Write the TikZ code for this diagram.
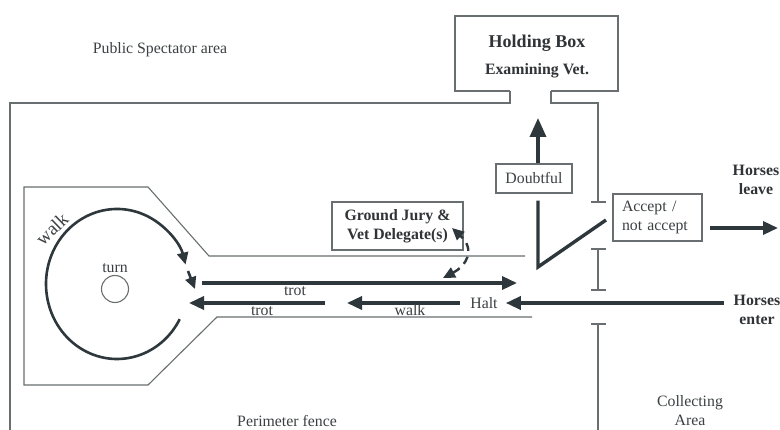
\documentclass[tikz,border=0pt]{standalone}
\usepackage{fontspec}
\setmainfont{Liberation Serif}
\usetikzlibrary{arrows.meta}
\definecolor{ink}{RGB}{45,55,60}
\definecolor{fence}{RGB}{105,110,112}
\definecolor{txt}{RGB}{60,64,66}
\definecolor{btxt}{RGB}{48,52,55}
\begin{document}
\begin{tikzpicture}[x=1pt,y=-1pt,
  fenceline/.style={draw=fence,line width=1.1pt},
  flow/.style={draw=ink,line width=3.4pt,-{Triangle[length=15pt,width=13pt]}},
  trackline/.style={draw=ink,line width=2.6pt,-{Triangle[length=12pt,width=11pt]}},
  lbl/.style={text=txt,font=\fontsize{15.8}{19}\selectfont,inner sep=0pt,align=center},
  blbl/.style={text=btxt,font=\fontsize{15.8}{19}\selectfont\bfseries,inner sep=0pt,align=center},
  framebox/.style={draw=fence,line width=1.1pt,inner sep=0pt}]
\useasboundingbox (0,0) rectangle (780,430);
\fill[white] (0,0) rectangle (780,430);

% perimeter fence and holding box
\draw[fenceline] (510,91) -- (455,91) -- (455,16) -- (618,16) -- (618,91) -- (551,91);
\draw[fenceline] (510,91) -- (510,103) -- (10,103) -- (10,430);
\draw[fenceline] (551,91) -- (551,103) -- (598,103) -- (598,202);
\draw[fenceline] (591,202) -- (606,202);
\draw[fenceline] (591,249) -- (606,249) (598,249) -- (598,290) (591,290) -- (606,290);
\draw[fenceline] (591,324) -- (606,324) (598,324) -- (598,430);

% arena (keyhole)
\draw[fenceline] (525,256) -- (209,256) -- (148,187) -- (24,187) -- (24,385) -- (148,385) -- (217,317) -- (532,317);

% texts
\node[lbl] (spect) at (160,50) {Public Spectator area};
\node[lbl] (perim) at (287,421) {Perimeter fence};
\node[lbl] (coll) at (690,411) {Collecting\\Area};
\node[blbl,font=\fontsize{18}{21}\selectfont\bfseries] (hold) at (537,43) {Holding Box};
\node[blbl] (exam) at (537,71) {Examining Vet.};

% turn circle
\node[lbl] (turn) at (115,268) {turn};
\node[draw=fence,line width=1.1pt,circle,minimum size=27pt,inner sep=0pt] (turnc) at (115,289) {};
\node[lbl,font=\fontsize{19}{22}\selectfont,rotate=44] (walkc) at (52,229) {walk};

% walk track
\draw[trackline] (179.7,319.2) arc[start angle=28,end angle=345,x radius=71,y radius=75];
\coordinate (tA) at (188,271);
\coordinate (tB) at (195,289);
\draw[trackline] (tA) -- (tB);

% corridor
\coordinate (trotRs) at (202,283);
\coordinate (trotRe) at (517,283);
\draw[flow] (trotRs) -- (trotRe);
\node[lbl] (trot1) at (295,291) {trot};
\coordinate (trotLs) at (325,303);
\coordinate (trotLe) at (189,303);
\draw[flow] (trotLs) -- (trotLe);
\node[lbl] (trot2) at (262,311) {trot};
\node[lbl] (halt) at (484,303) {Halt};
\coordinate (walkLe) at (347,303);
\draw[flow,shorten <=10pt] (halt.west) -- (walkLe);
\node[lbl] (walkl) at (410,310) {walk};

% horses enter
\node[blbl] (enter) at (757,310) {Horses\\enter};
\draw[flow,shorten <=10pt,shorten >=8pt] (enter.west |- halt) -- (halt.east);

% ground jury
\node[framebox,blbl,minimum width=131pt,minimum height=48pt] (jury) at (397.5,226) {Ground Jury \&\\Vet Delegate(s)};
\coordinate (dashLo) at (443,278);
\coordinate (dashHi) at (452,228);
\draw[draw=ink,line width=2.4pt,dash pattern=on 8pt off 6pt,{Triangle[length=12pt,width=11pt]}-{Triangle[length=12pt,width=11pt]}]
  (dashLo) .. controls (466,266) and (476,250) .. (dashHi);

% doubtful / accept
\node[framebox,lbl,minimum width=76pt,minimum height=29pt] (doubt) at (534,178.5) {Doubtful};
\coordinate (hbTip) at (538,118);
\draw[draw=ink,line width=3.4pt,-{Triangle[length=19pt,width=16pt]}] (doubt.north -| hbTip) -- (hbTip);
\coordinate (vtx) at (538,267);
\coordinate (gate) at (606,220);
\draw[draw=ink,line width=3.4pt] (doubt.south -| vtx) ++(0,7) -- (vtx) -- (gate);

\node[framebox,lbl,align=left,text width=71pt,inner xsep=9pt,minimum height=47pt] (accept) at (657.5,217.5) {Accept /\\not accept};
\coordinate (leaveTip) at (778,228);
\node[blbl] (leave) at (756,180) {Horses\\leave};
\draw[flow,shorten <=7pt] (accept.east |- leaveTip) -- (leaveTip);
\end{tikzpicture}
\end{document}
